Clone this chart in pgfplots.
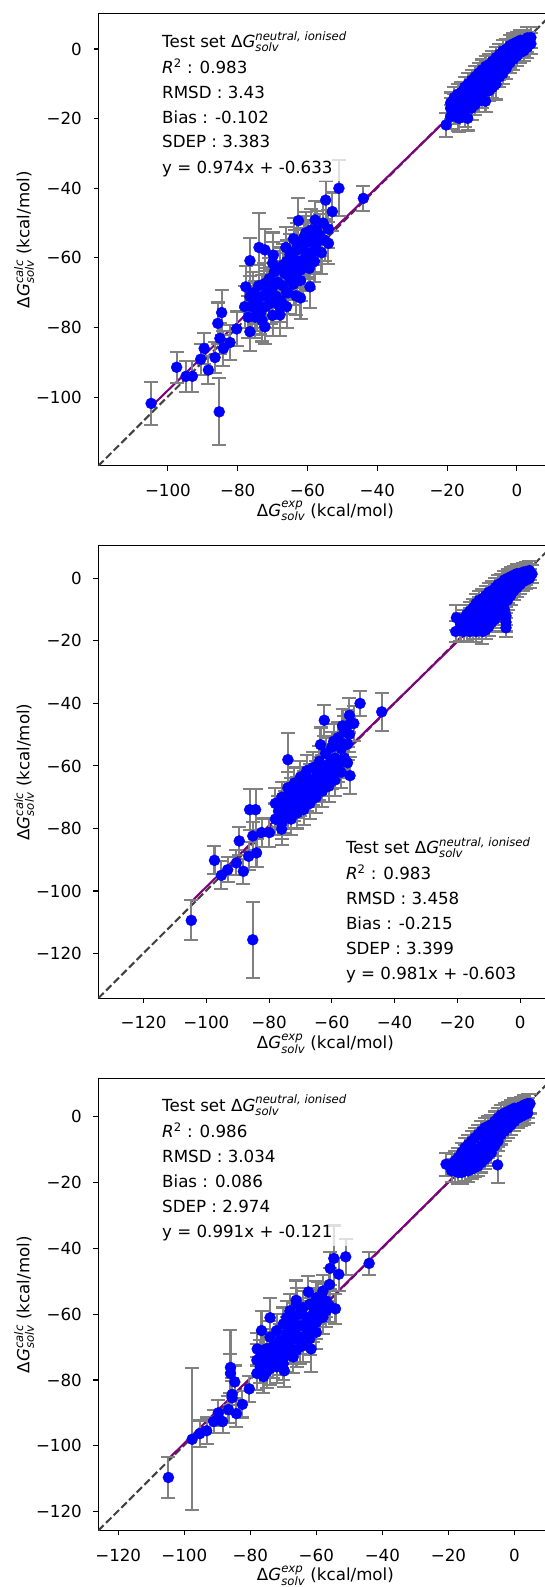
\documentclass[border=0pt]{standalone}
\usepackage{fontspec}
\setmainfont{DejaVu Sans}
\usepackage{pgfplots}
\usepackage{pgfplotstable}
\pgfplotsset{compat=1.18}
\newcommand{\myfs}{\fontsize{16.67bp}{20bp}\selectfont}
\newcommand{\scr}[1]{\hbox{\fontsize{11.67bp}{12bp}\selectfont\itshape #1}}
\newcommand{\scrup}[1]{\hbox{\fontsize{11.67bp}{12bp}\selectfont #1}}
\definecolor{mplpurple}{HTML}{800080}
\definecolor{mplgray}{HTML}{808080}
\definecolor{mplblue}{HTML}{0000FF}

\pgfplotstableread{
x y e
-20.3 -21.8 3.4
-19.0 -19.5 3.5
-19.0 -17.0 3.0
-19.0 -15.5 3.0
-18.0 -18.0 3.5
-18.0 -16.0 3.0
-18.0 -14.0 3.0
-17.0 -19.5 4.0
-17.0 -16.5 3.0
-17.0 -13.0 3.0
-16.6 -19.9 4.0
-16.0 -18.0 3.0
-16.0 -15.0 3.0
-16.0 -12.5 3.0
-15.0 -19.0 3.5
-15.0 -17.0 3.0
-15.0 -14.0 3.0
-15.0 -11.0 3.0
-14.1 -19.9 3.5
-14.0 -16.0 3.0
-14.0 -13.0 3.0
-14.0 -10.0 3.0
-13.0 -17.0 3.5
-13.0 -14.5 3.0
-13.0 -12.0 3.0
-13.0 -9.0 3.0
-12.0 -16.0 3.0
-12.0 -13.0 3.0
-12.0 -10.5 3.0
-12.0 -8.0 3.0
-11.0 -15.0 3.0
-11.0 -12.0 3.0
-11.0 -9.5 3.0
-11.0 -7.0 3.0
-10.0 -14.0 3.0
-10.0 -11.0 3.0
-10.0 -8.5 3.0
-10.0 -6.0 3.0
-9.0 -15.0 3.0
-9.0 -12.0 3.0
-9.0 -9.0 3.0
-9.0 -6.5 3.0
-9.0 -5.0 3.0
-8.0 -12.0 3.0
-8.0 -9.5 3.0
-8.0 -7.0 3.0
-8.0 -4.5 3.0
-7.0 -11.0 3.0
-7.0 -8.5 3.0
-7.0 -6.0 3.0
-7.0 -3.5 3.0
-6.0 -10.0 4.5
-6.0 -7.5 3.0
-6.0 -5.0 3.0
-6.0 -2.5 3.0
-5.0 -8.0 3.0
-5.0 -6.0 3.0
-5.0 -3.5 3.0
-5.0 -1.5 3.0
-4.0 -7.0 3.0
-4.0 -5.0 3.0
-4.0 -2.5 3.0
-4.0 -0.5 3.0
-3.0 -5.5 3.0
-3.0 -3.5 3.0
-3.0 -1.5 3.0
-3.0 0.0 3.0
-2.0 -4.0 3.0
-2.0 -2.5 3.0
-2.0 -0.5 3.0
-2.0 1.0 3.0
-1.0 -3.0 3.0
-1.0 -1.0 3.0
-1.0 0.5 3.0
-1.0 1.5 3.0
0.0 -2.0 3.0
0.0 -0.5 3.0
0.0 1.0 3.0
0.0 2.0 3.0
1.0 -1.0 3.0
1.0 0.5 3.0
1.0 1.5 3.0
1.0 2.5 3.0
2.0 -0.5 3.0
2.0 1.0 3.0
2.0 2.5 3.0
3.0 0.5 3.0
3.0 2.0 3.0
3.0 3.2 3.0
4.0 1.5 3.0
4.0 3.3 3.0
-104.8 -101.8 6.2
-85.3 -104.2 9.6
-97.5 -91.4 4.5
-94.8 -94.0 4.5
-93.0 -94.0 4.5
-90.6 -89.1 4.5
-89.6 -86.0 4.5
-88.4 -92.2 4.0
-86.5 -88.6 4.5
-85.7 -78.8 6.0
-84.6 -75.7 6.5
-85.1 -83.1 4.5
-84.1 -86.0 5.0
-82.2 -84.3 5.0
-80.3 -80.4 5.0
-76.5 -81.2 5.5
-72.2 -79.8 5.0
-76.5 -60.8 6.5
-73.9 -57.0 10.0
-72.2 -57.7 6.0
-69.8 -59.2 6.5
-66.2 -57.0 6.0
-62.6 -49.3 6.5
-54.8 -43.4 5.5
-51.0 -40.0 8.0
-44.0 -42.9 3.5
-52.9 -46.7 5.5
-54.0 -51.7 5.5
-54.0 -55.8 6.0
-59.3 -68.3 6.0
-63.3 -70.9 5.5
-67.9 -76.4 6.0
-76.5 -71.1 6.0
-77.7 -68.3 6.0
-64.1 -60.6 6.0
-57.4 -52.0 5.5
-57.8 -49.1 5.5
-78.0 -74.0 6
-77.0 -77.0 6
-76.0 -74.0 6
-75.5 -70.0 6
-75.0 -77.0 6
-74.5 -73.0 6
-74.0 -68.0 6
-73.5 -76.0 6
-73.0 -71.0 6
-72.5 -67.5 6
-72.0 -74.0 6
-71.5 -69.0 6
-71.0 -66.0 6
-70.5 -73.0 6
-70.0 -68.5 6
-69.5 -64.0 6
-69.0 -71.0 6
-68.5 -67.0 6
-68.0 -63.0 6
-67.5 -72.5 6
-67.0 -68.0 6
-66.5 -64.5 6
-66.0 -61.0 6
-65.5 -70.0 6
-65.0 -66.0 6
-64.5 -62.5 6
-64.0 -67.5 6
-63.5 -58.0 6
-63.0 -64.0 6
-62.5 -61.0 6
-62.0 -66.5 6
-61.5 -57.5 6
-61.0 -62.5 6
-60.5 -59.5 6
-60.0 -55.5 6
-59.5 -63.0 6
-59.0 -58.5 6
-58.5 -55.0 6
-58.0 -61.0 6
-57.5 -56.0 6
-56.5 -53.5 6
-56.0 -58.5 6
-55.5 -50.0 6
-55.0 -55.0 6
-64.0 -54.5 6
-60.5 -52.8 6
-70.0 -76.5 6
-66.0 -74.0 6
-62.0 -71.5 6
-75.0 -72.5 6
-73.0 -78.0 6
-71.0 -71.5 6
-69.0 -67.5 6
-67.0 -62.0 6
-65.0 -59.0 6
-63.0 -56.0 6
-61.0 -54.0 6
-59.0 -52.0 6
-62.0 -63.5 6
-60.0 -60.0 6
-58.0 -58.0 6
-68.0 -74.0 6
-66.0 -70.0 6
-64.0 -64.5 6
-70.0 -61.5 6
-72.0 -70.5 6
-74.5 -75.0 6
}\dataA

\pgfplotstableread{
x y e
-20.3 -12.6 4.0
-20.5 -17.0 3.5
-19.0 -16.5 3.5
-19.0 -14.5 3.5
-18.0 -17.0 3.5
-18.0 -15.0 3.0
-18.0 -13.0 3.0
-17.0 -16.5 3.5
-17.0 -14.0 3.0
-17.0 -11.5 3.0
-16.0 -17.0 3.5
-16.0 -15.0 3.0
-16.0 -12.5 3.0
-16.0 -10.5 3.0
-15.0 -16.5 3.0
-15.0 -14.0 3.0
-15.0 -11.5 3.0
-15.0 -9.5 3.0
-14.0 -17.0 3.5
-14.0 -15.0 3.0
-14.0 -12.5 3.0
-14.0 -10.0 3.0
-14.0 -8.0 3.0
-13.0 -16.5 3.0
-13.0 -14.0 3.0
-13.0 -11.5 3.0
-13.0 -9.0 3.0
-13.0 -7.0 3.0
-12.0 -17.0 4.0
-12.0 -15.0 3.0
-12.0 -12.5 3.0
-12.0 -10.0 3.0
-12.0 -6.5 3.0
-11.0 -16.5 3.0
-11.0 -14.0 3.0
-11.0 -11.0 3.0
-11.0 -8.0 3.0
-11.0 -5.5 3.0
-10.0 -15.5 3.0
-10.0 -13.0 3.0
-10.0 -10.5 3.0
-10.0 -7.5 3.0
-10.0 -4.5 3.0
-9.0 -14.0 3.0
-9.0 -11.5 3.0
-9.0 -9.0 3.0
-9.0 -6.5 3.0
-9.0 -4.0 3.0
-8.0 -13.0 3.0
-8.0 -10.5 3.0
-8.0 -8.0 3.0
-8.0 -5.5 3.0
-8.0 -3.0 3.0
-7.0 -12.0 3.0
-7.0 -9.5 3.0
-7.0 -7.0 3.0
-7.0 -4.5 3.0
-7.0 -2.0 3.0
-6.0 -11.0 3.0
-6.0 -8.5 3.0
-6.0 -6.0 3.0
-6.0 -3.5 3.0
-6.0 -1.5 3.0
-5.0 -10.0 3.0
-5.0 -7.5 3.0
-5.0 -5.0 3.0
-5.0 -2.5 3.0
-5.0 -0.5 3.0
-4.5 -12.0 3.0
-4.5 -14.0 3.0
-4.5 -15.8 3.0
-4.0 -7.0 3.0
-4.0 -5.0 3.0
-4.0 -3.0 3.0
-4.0 -1.0 3.0
-4.0 0.0 3.0
-3.0 -5.5 3.0
-3.0 -3.5 3.0
-3.0 -1.5 3.0
-3.0 0.5 3.0
-2.0 -4.0 3.0
-2.0 -2.5 3.0
-2.0 -0.5 3.0
-2.0 1.0 3.0
-1.0 -3.0 3.0
-1.0 -1.0 3.0
-1.0 0.5 3.0
-1.0 1.5 3.0
0.0 -2.0 3.0
0.0 0.0 3.0
0.0 1.5 3.0
1.0 -1.0 3.0
1.0 0.5 3.0
1.0 2.0 3.0
2.0 -0.5 3.0
2.0 1.0 3.0
2.0 2.2 3.0
3.0 0.0 3.0
3.0 1.5 3.0
3.0 2.5 3.0
3.8 1.4 3.0
-104.8 -109.4 6.4
-85.2 -115.6 12.2
-97.4 -90.2 4.5
-95.2 -95.0 4.5
-93.2 -93.2 4.0
-90.4 -91.0 4.0
-89.5 -84.0 4.5
-88.2 -93.7 4.0
-86.5 -88.9 4.5
-86.2 -74.0 6.5
-84.3 -74.0 6.5
-85.2 -82.4 4.5
-84.0 -87.8 4.5
-82.4 -81.3 4.5
-79.9 -81.3 4.5
-74.0 -58.0 8.5
-76.0 -80.2 5.0
-62.4 -45.4 5.0
-51.0 -40.0 4.0
-44.1 -42.7 6.0
-54.4 -43.8 5.5
-53.0 -46.4 5.5
-56.6 -47.2 5.5
-54.2 -63.1 6.0
-63.6 -53.2 5.5
-59.4 -52.1 5.5
-54.4 -49.9 5.5
-78.0 -72.0 5
-78.0 -77.0 5
-77.0 -74.5 5
-76.0 -70.0 5
-76.0 -78.5 5
-75.0 -73.0 5
-75.0 -76.5 5
-74.0 -67.0 5
-74.0 -71.0 5
-74.0 -75.0 5
-73.0 -69.0 5
-73.0 -77.0 5
-72.0 -65.5 5
-72.0 -72.5 5
-71.0 -68.5 5
-71.0 -75.0 5
-70.0 -63.5 5
-70.0 -71.0 5
-69.0 -66.5 5
-69.0 -74.0 5
-68.0 -61.5 5
-68.0 -69.5 5
-67.0 -64.5 5
-67.0 -72.0 5
-66.0 -60.5 5
-66.0 -67.5 5
-65.0 -63.5 5
-65.0 -70.0 5
-64.0 -58.5 5
-64.0 -66.0 5
-63.0 -61.5 5
-63.0 -68.0 5
-62.0 -56.0 5
-62.0 -64.5 5
-61.0 -59.5 5
-61.0 -66.5 5
-60.0 -54.0 5
-60.0 -62.5 5
-59.0 -57.5 5
-59.0 -64.5 5
-58.0 -51.0 5
-58.0 -60.0 5
-57.0 -54.5 5
-57.0 -62.0 5
-56.0 -49.0 5
-56.0 -57.5 5
-55.0 -53.0 5
-55.0 -59.0 5
-55.0 -47.0 5
-77.0 -77.0 5
-75.0 -70.0 5
-73.0 -73.0 5
-71.0 -71.5 5
-69.0 -70.0 5
-67.0 -68.0 5
-65.0 -66.5 5
-63.0 -64.5 5
-61.0 -62.5 5
-59.0 -60.5 5
-57.0 -58.0 5
-68.0 -65.5 5
-64.0 -62.0 5
-60.0 -58.0 5
-56.0 -53.0 5
}\dataB

\pgfplotstableread{
x y e
-20.7 -14.5 3.5
-19.0 -16.5 3.5
-19.0 -14.5 3.0
-18.0 -16.5 3.5
-18.0 -13.5 3.0
-17.0 -17.0 3.5
-17.0 -15.0 3.0
-17.0 -12.5 3.0
-16.0 -17.0 3.5
-16.0 -14.5 3.0
-16.0 -11.0 3.0
-15.0 -16.5 3.0
-15.0 -14.0 3.0
-15.0 -11.5 3.0
-15.0 -9.5 3.0
-14.0 -16.5 3.5
-14.0 -14.0 3.0
-14.0 -11.5 3.0
-14.0 -8.5 3.0
-13.0 -16.0 3.0
-13.0 -13.5 3.0
-13.0 -11.0 3.0
-13.0 -7.5 3.0
-12.0 -15.5 3.0
-12.0 -13.0 3.0
-12.0 -10.5 3.0
-12.0 -6.5 3.0
-11.0 -15.0 3.0
-11.0 -12.5 3.0
-11.0 -10.0 3.0
-11.0 -5.5 3.0
-10.0 -14.0 3.0
-10.0 -11.5 3.0
-10.0 -9.0 3.0
-10.0 -4.5 3.0
-9.0 -13.0 3.0
-9.0 -10.5 3.0
-9.0 -8.0 3.0
-9.0 -5.5 3.0
-9.0 -3.5 3.0
-8.0 -12.0 3.0
-8.0 -9.5 3.0
-8.0 -7.0 3.0
-8.0 -5.0 3.0
-8.0 -3.0 3.0
-7.0 -11.0 3.0
-7.0 -8.5 3.0
-7.0 -6.0 3.0
-7.0 -2.5 3.0
-6.0 -9.0 3.0
-6.0 -7.0 3.0
-6.0 -4.5 3.0
-6.0 -1.5 3.0
-5.1 -14.7 5.5
-5.0 -7.5 3.0
-5.0 -5.0 3.0
-5.0 -3.0 3.0
-5.0 -0.5 3.0
-4.0 -5.5 3.0
-4.0 -3.5 3.0
-4.0 -1.5 3.0
-4.0 0.5 3.0
-3.0 -4.5 3.0
-3.0 -2.5 3.0
-3.0 -0.5 3.0
-3.0 1.0 3.0
-2.0 -3.5 3.0
-2.0 -1.5 3.0
-2.0 0.5 3.0
-2.0 1.5 3.0
-1.0 -2.5 3.0
-1.0 -0.5 3.0
-1.0 1.0 3.0
-1.0 2.0 3.0
0.0 -1.5 3.0
0.0 0.5 3.0
0.0 2.0 3.0
0.0 2.5 3.0
1.0 -0.5 3.0
1.0 1.0 3.0
1.0 2.5 3.0
2.0 0.0 3.0
2.0 1.5 3.0
2.0 3.0 3.0
3.0 0.5 3.0
3.0 2.0 3.0
3.0 3.5 3.0
4.0 1.0 3.0
4.0 2.5 3.0
4.0 3.9 3.0
4.7 3.9 3.0
-104.8 -109.6 6.1
-97.6 -98.0 21.6
-95.3 -96.3 4.0
-93.2 -95.4 4.0
-91.1 -92.6 3.5
-88.4 -92.6 3.5
-89.7 -90.0 4.0
-86.6 -89.0 4.0
-84.2 -90.2 4.0
-82.4 -87.4 4.0
-86.0 -76.2 11.5
-86.0 -78.0 6.0
-84.7 -80.6 5.0
-85.5 -84.4 5.0
-85.5 -85.4 5.0
-80.3 -82.7 4.0
-74.0 -61.1 6.0
-76.6 -65.0 6.0
-77.9 -70.6 5.0
-69.7 -77.2 5.0
-61.6 -70.6 7.0
-62.4 -53.3 5.0
-54.7 -43.1 10.0
-51.1 -42.6 5.5
-44.0 -44.6 3.5
-55.8 -46.1 5.0
-53.2 -47.9 5.0
-54.2 -58.4 4.5
-66.1 -55.8 6.0
-59.5 -55.3 5.0
-78.0 -74.0 5
-78.0 -78.0 5
-77.0 -76.0 5
-76.0 -71.0 5
-76.0 -79.0 5
-75.0 -74.0 5
-75.0 -77.5 5
-74.0 -67.0 5
-74.0 -72.0 5
-74.0 -76.5 5
-73.0 -69.5 5
-73.0 -74.5 5
-72.0 -65.0 5
-72.0 -71.5 5
-72.0 -76.0 5
-71.0 -68.0 5
-71.0 -73.5 5
-70.0 -63.0 5
-70.0 -70.0 5
-70.0 -75.0 5
-69.0 -66.0 5
-69.0 -72.5 5
-68.0 -59.0 5
-68.0 -64.0 5
-68.0 -70.0 5
-67.0 -61.5 5
-67.0 -67.5 5
-67.0 -73.0 5
-66.0 -57.0 5
-66.0 -64.0 5
-66.0 -71.0 5
-65.0 -60.0 5
-65.0 -67.0 5
-64.0 -58.0 5
-64.0 -63.5 5
-64.0 -69.5 5
-63.0 -61.0 5
-63.0 -66.0 5
-62.0 -57.0 5
-62.0 -63.0 5
-62.0 -67.5 5
-61.0 -60.0 5
-60.0 -55.0 5
-60.0 -62.5 5
-60.0 -65.5 5
-59.0 -58.0 5
-58.0 -53.0 5
-58.0 -61.0 5
-57.0 -56.0 5
-56.0 -51.0 5
-56.0 -57.5 5
-77.0 -73.0 5
-75.0 -70.5 5
-73.0 -72.0 5
-71.0 -70.5 5
-69.0 -69.0 5
-67.0 -64.5 5
-65.0 -63.5 5
-63.0 -63.5 5
-61.0 -63.5 5
-59.0 -61.0 5
-57.0 -59.0 5
-65.0 -70.0 5
-69.0 -61.0 5
-61.0 -57.5 5
}\dataC

\pgfplotsset{
  panel/.style={
    scale only axis, width=454bp,
    anchor=north west,
    axis line style={line width=1.1bp, black},
    every tick/.style={line width=1.1bp, black},
    major tick length=4.9bp,
    tick align=outside,
    xtick pos=lower, ytick pos=lower,
    xticklabel style={anchor=base, inner sep=0pt, yshift=-25.9bp, font=\myfs},
    yticklabel style={anchor=east, inner sep=0pt, xshift=-11.5bp, font=\myfs},
    xlabel style={at={(axis description cs:0.5,-0.1117)}, anchor=base, font=\myfs, inner sep=0pt},
    ylabel style={at={(axis description cs:-0.1518,0.5)}, anchor=base, font=\myfs, inner sep=0pt},
    xlabel={Δ\textit{G}$^{\scr{exp}}_{\scr{solv}}$ (kcal/mol)},
    ylabel={Δ\textit{G}$^{\scr{calc}}_{\scr{solv}}$ (kcal/mol)},
  },
  ebars/.style={only marks, mark=none, forget plot,
    error bars/.cd, y dir=both, y explicit,
    error bar style={line width=2.08bp, draw=mplgray},
    error mark options={rotate=90, line width=2.08bp, draw=mplgray, mark size=7bp}},
  dots/.style={only marks, mark=*, mark size=5.5bp,
    mark options={draw=mplblue, fill=mplblue, line width=0.4bp}},
  diag/.style={black!75, line width=2.08bp, dash pattern=on 7.5bp off 3.3bp, forget plot},
  fit/.style={mplpurple, line width=2.08bp, forget plot},
}

\begin{document}
\begin{tikzpicture}
\useasboundingbox (0,0) rectangle (545bp,-1587bp);

% ---------- panel 1
\begin{axis}[panel, at={(98.4bp,-13.5bp)}, height=452.3bp,
  xmin=-119.92, xmax=10.17, ymin=-119.71, ymax=10.2,
  xtick={-100,-80,-60,-40,-20,0}, xticklabels={−100,−80,−60,−40,−20,0},
  ytick={-100,-80,-60,-40,-20,0}, yticklabels={−100,−80,−60,−40,−20,0}]
\addplot[diag] coordinates {(-119.92,-119.71) (10.17,10.2)};
\addplot[fit] coordinates {(-104.8,-102.71) (4.5,3.75)};
\addplot[ebars] table[x=x,y=y,y error=e]{\dataA};
\addplot[dots] table[x=x,y=y]{\dataA};
\end{axis}

% ---------- panel 2
\begin{axis}[panel, at={(98.4bp,-545.9bp)}, height=452.2bp,
  xmin=-134.4, xmax=10.3, ymin=-134.26, ymax=10.38,
  xtick={-120,-100,-80,-60,-40,-20,0}, xticklabels={−120,−100,−80,−60,−40,−20,0},
  ytick={-120,-100,-80,-60,-40,-20,0}, yticklabels={−120,−100,−80,−60,−40,−20,0}]
\addplot[diag] coordinates {(-134.4,-134.26) (10.3,10.38)};
\addplot[fit] coordinates {(-104.8,-103.41) (3.8,3.12)};
\addplot[ebars] table[x=x,y=y,y error=e]{\dataB};
\addplot[dots] table[x=x,y=y]{\dataB};
\end{axis}

% ---------- panel 3
\begin{axis}[panel, at={(98.4bp,-1078.8bp)}, height=451.7bp,
  xmin=-126.0, xmax=11.5, ymin=-125.7, ymax=11.43,
  xtick={-120,-100,-80,-60,-40,-20,0}, xticklabels={−120,−100,−80,−60,−40,−20,0},
  ytick={-120,-100,-80,-60,-40,-20,0}, yticklabels={−120,−100,−80,−60,−40,−20,0}]
\addplot[diag] coordinates {(-126.0,-125.7) (11.5,11.43)};
\addplot[fit] coordinates {(-104.8,-103.98) (4.7,4.54)};
\addplot[ebars] table[x=x,y=y,y error=e]{\dataC};
\addplot[dots] table[x=x,y=y]{\dataC};
\end{axis}

% ---------- annotation boxes
\fill[white, opacity=0.75] (157bp,-24bp) rectangle (358bp,-181bp);
\fill[white, opacity=0.75] (341bp,-833bp) rectangle (541bp,-987bp);
\fill[white, opacity=0.75] (157bp,-1090bp) rectangle (358bp,-1246bp);

\begin{scope}[every node/.style={anchor=base west, inner sep=0pt, font=\myfs}]
\node at (162bp,-47.3bp) {Test set Δ\textit{G}$^{\scr{neutral, ionised}}_{\scr{solv}}$};
\node at (162bp,-73.3bp) {\textit{R}$^{\scrup{2}}$ : 0.983};
\node at (162bp,-98.0bp) {RMSD : 3.43};
\node at (162bp,-123.0bp) {Bias : -0.102};
\node at (162bp,-147.7bp) {SDEP : 3.383};
\node at (162bp,-173.1bp) {y = 0.974x + -0.633};

\node at (345.8bp,-853.3bp) {Test set Δ\textit{G}$^{\scr{neutral, ionised}}_{\scr{solv}}$};
\node at (345.8bp,-879.6bp) {\textit{R}$^{\scrup{2}}$ : 0.983};
\node at (345.8bp,-904.5bp) {RMSD : 3.458};
\node at (345.8bp,-929.4bp) {Bias : -0.215};
\node at (345.8bp,-954.3bp) {SDEP : 3.399};
\node at (345.8bp,-979.2bp) {y = 0.981x + -0.603};

\node at (162bp,-1111.1bp) {Test set Δ\textit{G}$^{\scr{neutral, ionised}}_{\scr{solv}}$};
\node at (162bp,-1137.6bp) {\textit{R}$^{\scrup{2}}$ : 0.986};
\node at (162bp,-1162.5bp) {RMSD : 3.034};
\node at (162bp,-1187.4bp) {Bias : 0.086};
\node at (162bp,-1212.3bp) {SDEP : 2.974};
\node at (162bp,-1237.2bp) {y = 0.991x + -0.121};
\end{scope}
\end{tikzpicture}
\end{document}
